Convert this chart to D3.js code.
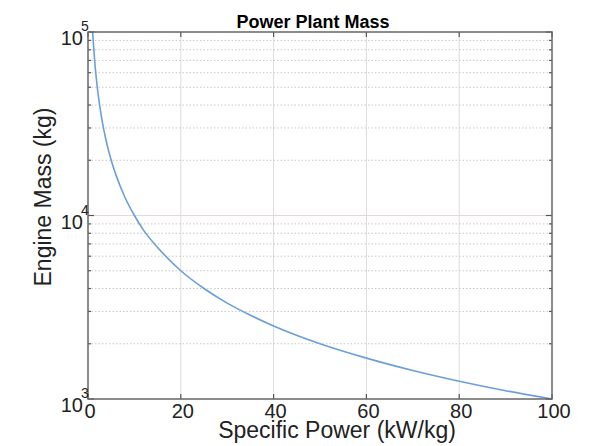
<!DOCTYPE html>
<html lang="en">
<head>
    <meta charset="UTF-8">
    <title>Power Plant Mass</title>
    <style>
        body { margin: 0; background: #fff; font-family: "Liberation Sans", Arial, sans-serif; }
        .tick-label { font-size: 20px; fill: #222; }
        .axis-label { font-size: 23px; fill: #222; }
    </style>
</head>
<body>
    <div id="chart"></div>
    <script src="https://d3js.org/d3.v7.min.js"></script>
    <script>
        // Values
        const specificPower = [1, 1.5, 2, 3, 4, 5, 6, 8, 10, 12, 15, 20, 25, 30, 35, 40, 50, 60, 70, 80, 90, 100];
        const engineMass = [100000, 66700, 50000, 33300, 25000, 20000, 16700, 12500, 10000, 8300, 6700, 5000, 4000, 3330, 2860, 2500, 2000, 1670, 1430, 1250, 1110, 1000];
        const xTicks = [0, 20, 40, 60, 80, 100];
        const yDecades = [3, 4, 5];

        const width = 611, height = 446;
        const margin = { top: 32, right: 59, bottom: 47, left: 88 };
        const innerW = width - margin.left - margin.right;
        const innerH = height - margin.top - margin.bottom;

        const svg = d3.select("#chart").append("svg")
            .attr("width", width)
            .attr("height", height);

        const g = svg.append("g")
            .attr("transform", `translate(${margin.left},${margin.top})`);

        const x = d3.scaleLinear().domain([0, 100]).range([0, innerW]);
        const y = d3.scaleLog().domain([1000, 100000]).range([innerH, 0]);

        // minor values on the log axis
        const minors = [];
        for (let d = 3; d < 5; d++) {
            for (let m = 2; m <= 9; m++) minors.push(m * Math.pow(10, d));
        }

        // grid
        g.selectAll(".xgrid")
            .data(xTicks.slice(1, -1))
            .enter().append("line")
            .attr("x1", d => x(d)).attr("x2", d => x(d))
            .attr("y1", 0).attr("y2", innerH)
            .attr("stroke", "#dcdcdc").attr("stroke-width", 1);

        g.selectAll(".ygrid-minor")
            .data(minors)
            .enter().append("line")
            .attr("x1", 0).attr("x2", innerW)
            .attr("y1", d => y(d)).attr("y2", d => y(d))
            .attr("stroke", "#c8c8c8").attr("stroke-width", 1)
            .attr("stroke-dasharray", "1.5,2");

        g.append("line")
            .attr("x1", 0).attr("x2", innerW)
            .attr("y1", y(10000)).attr("y2", y(10000))
            .attr("stroke", "#e4d8d8").attr("stroke-width", 1);

        // curve
        const pts = specificPower.map((p, i) => [p, engineMass[i]]);
        g.append("path")
            .datum(pts)
            .attr("fill", "none")
            .attr("stroke", "#6a9fd8")
            .attr("stroke-width", 1.6)
            .attr("d", d3.line()
                .x(d => x(d[0]))
                .y(d => y(d[1]))
                .curve(d3.curveMonotoneX));

        // ticks (inward)
        const tickColor = "#555";
        xTicks.forEach(t => {
            g.append("line").attr("x1", x(t)).attr("x2", x(t))
                .attr("y1", innerH).attr("y2", innerH - 5)
                .attr("stroke", tickColor).attr("stroke-width", 1.2);
            g.append("line").attr("x1", x(t)).attr("x2", x(t))
                .attr("y1", 0).attr("y2", 5)
                .attr("stroke", tickColor).attr("stroke-width", 1.2);
        });
        minors.forEach(v => {
            g.append("line").attr("x1", 0).attr("x2", 3)
                .attr("y1", y(v)).attr("y2", y(v))
                .attr("stroke", tickColor).attr("stroke-width", 1.2);
            g.append("line").attr("x1", innerW).attr("x2", innerW - 3)
                .attr("y1", y(v)).attr("y2", y(v))
                .attr("stroke", tickColor).attr("stroke-width", 1.2);
        });
        yDecades.forEach(dc => {
            const v = Math.pow(10, dc);
            g.append("line").attr("x1", 0).attr("x2", 6)
                .attr("y1", y(v)).attr("y2", y(v))
                .attr("stroke", tickColor).attr("stroke-width", 1.2);
            g.append("line").attr("x1", innerW).attr("x2", innerW - 6)
                .attr("y1", y(v)).attr("y2", y(v))
                .attr("stroke", tickColor).attr("stroke-width", 1.2);
        });

        // frame
        g.append("rect")
            .attr("width", innerW).attr("height", innerH)
            .attr("fill", "none")
            .attr("stroke", "#666").attr("stroke-width", 1.5);

        // x tick labels
        g.selectAll(".xlab")
            .data(xTicks)
            .enter().append("text")
            .attr("class", "tick-label")
            .attr("x", d => x(d) + 2)
            .attr("y", innerH + 19)
            .attr("text-anchor", "middle")
            .text(d => d);

        // y tick labels: "10" ends just left of the axis, exponent sits above it
        yDecades.forEach(dc => {
            const yy = y(Math.pow(10, dc));
            g.append("text")
                .attr("class", "tick-label")
                .attr("x", -5)
                .attr("y", yy + 13)
                .attr("text-anchor", "end")
                .text("10");
            g.append("text")
                .attr("class", "tick-label")
                .attr("x", -7)
                .attr("y", yy - 1)
                .style("font-size", "14px")
                .text(dc);
        });

        // axis labels
        svg.append("text")
            .attr("class", "axis-label")
            .attr("x", 337)
            .attr("y", 438)
            .attr("text-anchor", "middle")
            .text("Specific Power (kW/kg)");

        svg.append("text")
            .attr("class", "axis-label")
            .attr("transform", "translate(51,197) rotate(-90)")
            .attr("text-anchor", "middle")
            .text("Engine Mass (kg)");

        // title
        svg.append("text")
            .attr("x", 313)
            .attr("y", 28)
            .attr("text-anchor", "middle")
            .style("font-size", "18px")
            .style("font-weight", "bold")
            .text("Power Plant Mass");
    </script>
</body>
</html>
